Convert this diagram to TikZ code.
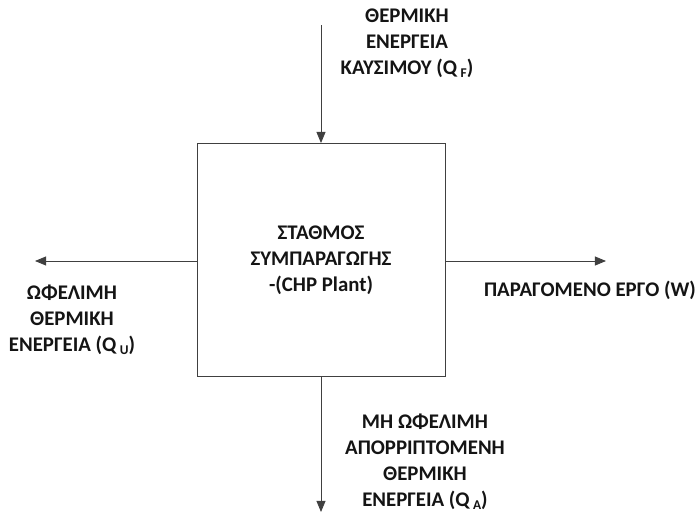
\documentclass[tikz,border=0pt]{standalone}
\usepackage{fontspec}
\setmainfont{Carlito}
\usetikzlibrary{arrows.meta}
\tikzset{
  flow/.style={draw=black!75,line width=0.6pt,-{Triangle[length=8pt,width=6.5pt]}},
  lbl/.style={align=center,font=\bfseries\fontsize{14.8}{18.5}\selectfont,text=black!92,inner sep=0pt}
}
\newcommand{\sub}[1]{\,\raisebox{-2pt}{\fontsize{9.5}{9.5}\selectfont #1}}
\begin{document}
\begin{tikzpicture}[x=0.025cm,y=-0.025cm]
\useasboundingbox (0,0) rectangle (699,514);
\node[rectangle,draw=black!75,line width=0.6pt,minimum width=6.2cm,minimum height=5.825cm,inner sep=0pt] (CHP) at (321,260) {};
\node[lbl] (CHPt) at (321,260) {ΣΤΑΘΜΟΣ\\ΣΥΜΠΑΡΑΓΩΓΗΣ\\-(CHP Plant)};
\coordinate (F) at (321,25);
\coordinate (U) at (35,261);
\coordinate (W) at (606,261);
\coordinate (A) at (321,512);
\draw[flow] (F) -- (CHP.north-|F);
\draw[flow] (CHP.west|-U) -- (U);
\draw[flow] (CHP.east|-W) -- (W);
\draw[flow] (CHP.south-|A) -- (A);
\node[lbl] (QF) at (407,43) {ΘΕΡΜΙΚΗ\\ΕΝΕΡΓΕΙΑ\\ΚΑΥΣΙΜΟΥ (Q\sub{F})};
\node[lbl] (QU) at (72,320) {ΩΦΕΛΙΜΗ\\ΘΕΡΜΙΚΗ\\ΕΝΕΡΓΕΙΑ (Q\sub{U})};
\node[lbl] (QW) at (590,290) {ΠΑΡΑΓΟΜΕΝΟ ΕΡΓΟ (W)};
\node[lbl] (QA) at (425,462) {ΜΗ ΩΦΕΛΙΜΗ\\ΑΠΟΡΡΙΠΤΟΜΕΝΗ\\ΘΕΡΜΙΚΗ\\ΕΝΕΡΓΕΙΑ (Q\sub{A})};
\end{tikzpicture}
\end{document}
